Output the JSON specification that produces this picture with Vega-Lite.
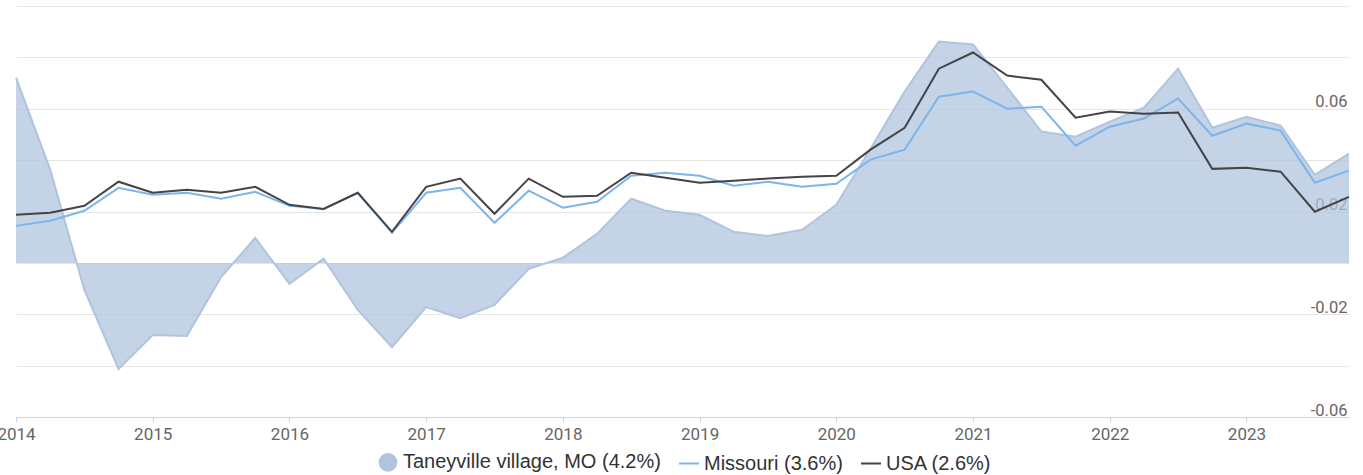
{
  "$schema": "https://vega.github.io/schema/vega-lite/v6.json",
  "autosize": "none",
  "width": 1333,
  "height": 411,
  "padding": {"left": 16, "top": 6, "right": 14, "bottom": 58},
  "background": "white",
  "config": {"view": {"stroke": null}},
  "datasets": {
    "rows": [
      {"year": 2014.0, "T": 0.0721, "M": 0.0144, "U": 0.0187},
      {"year": 2014.25, "T": 0.0363, "M": 0.0164, "U": 0.0195},
      {"year": 2014.5, "T": -0.0105, "M": 0.0203, "U": 0.0222},
      {"year": 2014.75, "T": -0.0413, "M": 0.0292, "U": 0.0316},
      {"year": 2015.0, "T": -0.0281, "M": 0.0265, "U": 0.0273},
      {"year": 2015.25, "T": -0.0285, "M": 0.0273, "U": 0.0285},
      {"year": 2015.5, "T": -0.0055, "M": 0.025, "U": 0.0273},
      {"year": 2015.75, "T": 0.0097, "M": 0.0277, "U": 0.0296},
      {"year": 2016.0, "T": -0.0082, "M": 0.0222, "U": 0.0226},
      {"year": 2016.25, "T": 0.0016, "M": 0.021, "U": 0.021},
      {"year": 2016.5, "T": -0.0183, "M": 0.0273, "U": 0.0273},
      {"year": 2016.75, "T": -0.0328, "M": 0.0117, "U": 0.0121},
      {"year": 2017.0, "T": -0.0172, "M": 0.0273, "U": 0.0296},
      {"year": 2017.25, "T": -0.0215, "M": 0.0292, "U": 0.0328},
      {"year": 2017.5, "T": -0.0164, "M": 0.0156, "U": 0.0191},
      {"year": 2017.75, "T": -0.0023, "M": 0.0281, "U": 0.0328},
      {"year": 2018.0, "T": 0.002, "M": 0.0215, "U": 0.0257},
      {"year": 2018.25, "T": 0.0113, "M": 0.0238, "U": 0.0261},
      {"year": 2018.5, "T": 0.025, "M": 0.0339, "U": 0.0351},
      {"year": 2018.75, "T": 0.0203, "M": 0.0351, "U": 0.0331},
      {"year": 2019.0, "T": 0.0187, "M": 0.0339, "U": 0.0312},
      {"year": 2019.25, "T": 0.0121, "M": 0.03, "U": 0.032},
      {"year": 2019.5, "T": 0.0105, "M": 0.0316, "U": 0.0328},
      {"year": 2019.75, "T": 0.0129, "M": 0.0296, "U": 0.0335},
      {"year": 2020.0, "T": 0.0226, "M": 0.0308, "U": 0.0339},
      {"year": 2020.25, "T": 0.0444, "M": 0.0402, "U": 0.0441},
      {"year": 2020.5, "T": 0.0667, "M": 0.0441, "U": 0.0526},
      {"year": 2020.75, "T": 0.0862, "M": 0.0647, "U": 0.0756},
      {"year": 2021.0, "T": 0.085, "M": 0.0667, "U": 0.0819},
      {"year": 2021.25, "T": 0.0682, "M": 0.06, "U": 0.0729},
      {"year": 2021.5, "T": 0.0511, "M": 0.0608, "U": 0.0713},
      {"year": 2021.75, "T": 0.0491, "M": 0.0456, "U": 0.0565},
      {"year": 2022.0, "T": 0.055, "M": 0.053, "U": 0.0589},
      {"year": 2022.25, "T": 0.0604, "M": 0.0562, "U": 0.0581},
      {"year": 2022.5, "T": 0.0756, "M": 0.064, "U": 0.0585},
      {"year": 2022.75, "T": 0.0526, "M": 0.0495, "U": 0.0366},
      {"year": 2023.0, "T": 0.0569, "M": 0.0542, "U": 0.037},
      {"year": 2023.25, "T": 0.0534, "M": 0.0515, "U": 0.0355},
      {"year": 2023.5, "T": 0.0343, "M": 0.0312, "U": 0.0199},
      {"year": 2023.75, "T": 0.0425, "M": 0.0359, "U": 0.0257}
    ]
  },
  "data": {"name": "rows"},
  "transform": [
    {"fold": ["T", "M", "U"], "as": ["key", "value"]},
    {"lookup": "key", "from": {"data": {"values": [
      {"key": "T", "series": "Taneyville village, MO (4.2%)"},
      {"key": "M", "series": "Missouri (3.6%)"},
      {"key": "U", "series": "USA (2.6%)"}
    ]}, "key": "key", "fields": ["series"]}}
  ],
  "encoding": {
    "x": {
      "field": "year", "type": "quantitative",
      "scale": {"domain": [2014, 2023.75], "nice": false, "zero": false},
      "axis": {
        "title": null,
        "values": [2014, 2015, 2016, 2017, 2018, 2019, 2020, 2021, 2022, 2023],
        "format": "d",
        "grid": false,
        "domainColor": "#ccd6eb",
        "tickColor": "#ccd6eb",
        "tickSize": 5,
        "labelPadding": 4,
        "labelFont": "Roboto",
        "labelFontSize": 17,
        "labelColor": "#666666",
        "labelFlush": false,
        "labelOverlap": false
      }
    },
    "y": {
      "field": "value", "type": "quantitative",
      "scale": {"domain": [-0.06, 0.1], "nice": false},
      "axis": {
        "title": null,
        "orient": "right",
        "values": [-0.06, -0.04, -0.02, 0, 0.02, 0.04, 0.06, 0.08, 0.1],
        "labelExpr": "(abs(round(datum.value*100)) % 4 == 2 && datum.value < 0.09) ? ((datum.value < 0 ? '-' : '') + format(abs(datum.value), '.2f')) : ''",
        "domain": false,
        "ticks": false,
        "gridColor": "#e6e6e6",
        "labelAlign": "right",
        "labelBaseline": "alphabetic",
        "labelPadding": -2,
        "labelOffset": -2,
        "labelFont": "Roboto",
        "labelFontSize": 16.5,
        "labelColor": "#666666"
      }
    }
  },
  "layer": [
    {
      "transform": [{"filter": "datum.key == 'T'"}],
      "mark": {"type": "area", "fillOpacity": 0.75},
      "encoding": {
        "y2": {"datum": 0},
        "color": {
          "field": "series", "type": "nominal",
          "scale": {
            "domain": ["Taneyville village, MO (4.2%)", "Missouri (3.6%)", "USA (2.6%)"],
            "range": ["#b0c4de", "#7cb5ec", "#434348"]
          },
          "legend": {
            "title": null,
            "orient": "none",
            "legendX": 361,
            "legendY": 445,
            "direction": "horizontal",
            "labelFont": "Liberation Sans",
            "labelFontSize": 20,
            "labelLimit": 0,
            "labelColor": "#333333",
            "labelOffset": 4,
            "columnPadding": 14,
            "symbolSize": 400,
            "encode": {
              "symbols": {
                "update": {
                  "shape": {"signal": "datum.value === 'Taneyville village, MO (4.2%)' ? 'circle' : 'stroke'"},
                  "size": {"signal": "datum.value === 'Taneyville village, MO (4.2%)' ? 283 : 400"},
                  "fill": {"signal": "datum.value === 'Taneyville village, MO (4.2%)' ? '#b0c4de' : 'transparent'"},
                  "fillOpacity": {"value": 1},
                  "opacity": {"value": 1},
                  "stroke": {"signal": "datum.value === 'Taneyville village, MO (4.2%)' ? 'transparent' : (datum.value === 'Missouri (3.6%)' ? '#7cb5ec' : '#434348')"},
                  "strokeWidth": {"value": 2}
                }
              }
            }
          }
        }
      }
    },
    {
      "transform": [{"filter": "datum.key == 'T'"}],
      "mark": {"type": "line", "color": "#b0c4de", "strokeWidth": 2},
      "encoding": {}
    },
    {
      "transform": [{"filter": "datum.key == 'M'"}],
      "mark": {"type": "line", "strokeWidth": 2},
      "encoding": {"color": {"field": "series", "type": "nominal"}}
    },
    {
      "transform": [{"filter": "datum.key == 'U'"}],
      "mark": {"type": "line", "strokeWidth": 2},
      "encoding": {"color": {"field": "series", "type": "nominal"}}
    }
  ]
}
